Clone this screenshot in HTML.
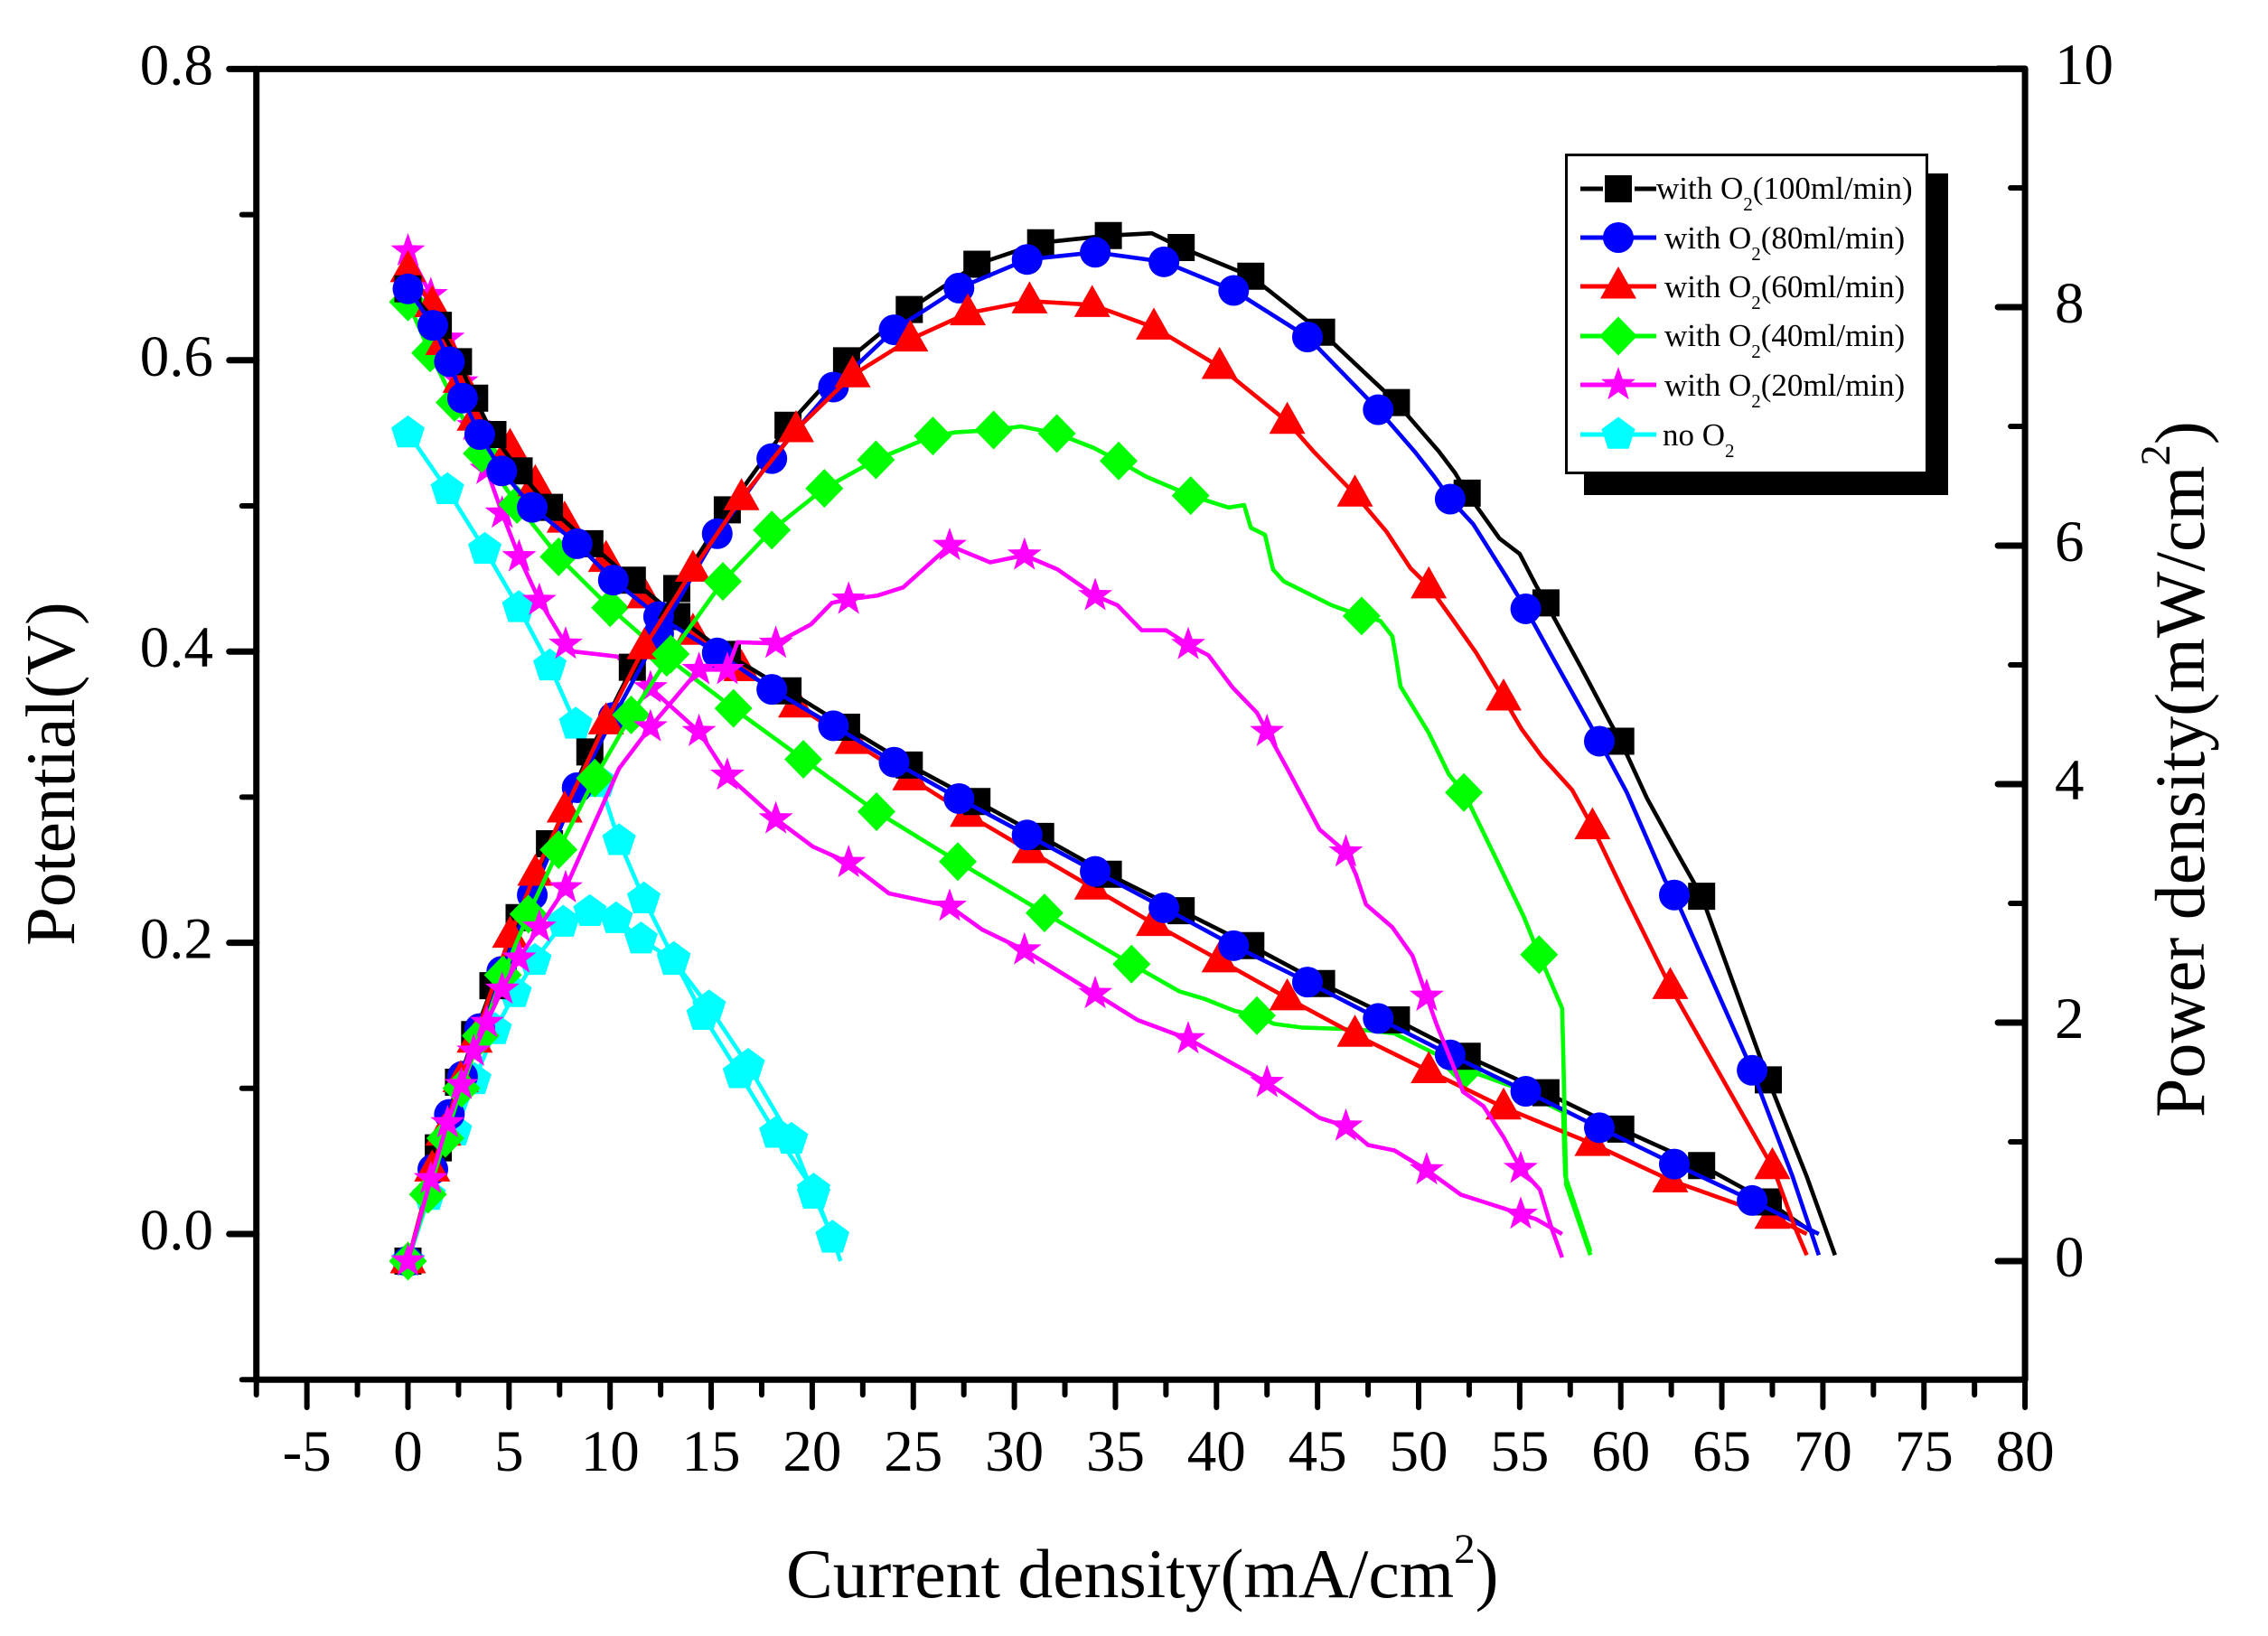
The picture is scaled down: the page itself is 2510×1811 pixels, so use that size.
<!DOCTYPE html>
<html lang="en">
<head>
<meta charset="utf-8">
<title>Potential and power density vs current density</title>
<style>
html,body{margin:0;padding:0;background:#fff;width:2510px;height:1811px;overflow:hidden}
svg{display:block}
text{font-family:"Liberation Serif",serif;fill:#000}
</style>
</head>
<body>
<svg id="chart" xmlns="http://www.w3.org/2000/svg" width="2510" height="1811" viewBox="0 0 2510 1811">
  <rect x="0" y="0" width="2510" height="1811" fill="#fff"/>
  <g id="axes"></g>
  <g id="plots"></g>
  <text x="870" y="1768" font-size="77.6">Current density(mA/cm<tspan dy="-38" font-size="47">2</tspan><tspan dy="38">)</tspan></text>
  <text transform="translate(82 1047) rotate(-90)" font-size="77">Potential(V)</text>
  <text transform="translate(2439 1237) rotate(-90)" font-size="78">Power density(mW/cm<tspan dy="-38" font-size="47">2</tspan><tspan dy="38">)</tspan></text>
  <g id="legend">
    <rect x="1753" y="192" width="403" height="356" fill="#000"/>
    <rect x="1733.5" y="171.5" width="399" height="352" fill="#fff" stroke="#000" stroke-width="3"/>
    <text x="1833" y="220" font-size="35">with O<tspan dy="13" font-size="21">2</tspan><tspan dy="-13">(100ml/min)</tspan></text>
    <text x="1842" y="275" font-size="35">with O<tspan dy="13" font-size="21">2</tspan><tspan dy="-13">(80ml/min)</tspan></text>
    <text x="1842" y="329" font-size="35">with O<tspan dy="13" font-size="21">2</tspan><tspan dy="-13">(60ml/min)</tspan></text>
    <text x="1842" y="383" font-size="35">with O<tspan dy="13" font-size="21">2</tspan><tspan dy="-13">(40ml/min)</tspan></text>
    <text x="1842" y="438" font-size="35">with O<tspan dy="13" font-size="21">2</tspan><tspan dy="-13">(20ml/min)</tspan></text>
    <text x="1840" y="493" font-size="35">no O<tspan dy="13" font-size="21">2</tspan></text>
  </g>
</svg>
<script>
// Tick labels
const xTickValues = [-5,0,5,10,15,20,25,30,35,40,45,50,55,60,65,70,75,80];
const xMinorTickValues = [-7.5,-2.5,2.5,7.5,12.5,17.5,22.5,27.5,32.5,37.5,42.5,47.5,52.5,57.5,62.5,67.5,72.5,77.5];
const leftTickValues = [0,0.2,0.4,0.6,0.8];
const leftTickLabels = ['0.0','0.2','0.4','0.6','0.8'];
const leftMinorTickValues = [-0.1,0.1,0.3,0.5,0.7];
const rightTickValues = [0,2,4,6,8,10];
const rightMinorTickValues = [1,3,5,7,9];

// 100 ml/min
const current100 = [0,1.5,2.5,3.3,4.2,5.5,7,9,11.1,13.3,15.8,18.8,21.7,24.8,28.15,31.3,34.65,38.25,41.7,45.2,48.9,52.4,56.3,60,64,67.3];
const voltage100 = [.649,.624,.599,.574,.549,.524,.499,.474,.449,.424,.398,.373,.348,.322,.297,.273,.247,.222,.198,.172,.147,.122,.097,.072,.047,.022];
const power100 = [0,.95,1.5,1.9,2.31,2.88,3.5,4.27,4.98,5.64,6.3,7.01,7.55,7.98,8.36,8.54,8.6,8.5,8.26,7.79,7.2,6.44,5.52,4.36,3.06,1.52];
const lineCurrentV100 = [69.6];
const lineVoltage100 = [0];
const lineCurrentP100 = [36.8,51,51.8,54,55,55.8,58,59.5,61.3,62.7,69.2,70.6];
const linePower100 = [8.62,6.79,6.61,6.06,5.93,5.67,4.99,4.51,3.88,3.45,.71,.05];

// 80 ml/min
const current80 = [0,1.23,2.05,2.7,3.55,4.64,6.15,8.37,10.16,12.4,15.3,18,21.05,24.05,27.26,30.63,34,37.4,40.85,44.5,48,51.56,55.3,58.94,62.65,66.5];
const voltage80 = [.649,.624,.599,.574,.549,.524,.499,.474,.449,.424,.399,.374,.349,.324,.299,.274,.249,.224,.198,.173,.148,.123,.098,.073,.048,.023];
const power80 = [0,.77,1.23,1.55,1.95,2.43,3.07,3.97,4.56,5.26,6.1,6.73,7.33,7.81,8.16,8.4,8.46,8.38,8.14,7.75,7.14,6.39,5.47,4.36,3.07,1.6];
const lineCurrentV80 = [69.8];
const lineVoltage80 = [0];
const lineCurrentP80 = [49.8,50.77,52.7,54.3,56.7,60.3,62.2,68.5,69.8];
const linePower80 = [6.79,6.58,6.18,5.75,5.04,3.93,3.19,.71,.05];

// 60 ml/min
const current60 = [0,1.2,1.75,2.6,3.3,5.05,6.3,7.75,9.8,11.7,14.1,16.5,19.2,22,24.85,27.7,30.75,33.85,36.9,40.15,43.5,46.85,50.5,54.2,58.6,62.45,67.5];
const voltage60 = [.662,.638,.612,.586,.56,.54,.515,.49,.463,.438,.413,.388,.363,.338,.313,.288,.263,.238,.213,.188,.162,.137,.112,.087,.062,.037,.012];
const power60 = [0,.77,1.07,1.52,1.85,2.73,3.25,3.78,4.52,5.15,5.8,6.4,6.97,7.43,7.73,7.95,8.05,8.02,7.83,7.5,7.04,6.43,5.66,4.72,3.64,2.3,.79];
const lineCurrentV60 = [69.2];
const lineVoltage60 = [0];
const lineCurrentP60 = [44.8,48.4,49.6,51.65,52.85,55.1,56.1,57.6,60.3,67.7,68.6,69.2];
const linePower60 = [6.79,6.12,5.81,5.39,5.1,4.46,4.23,3.95,3.04,.71,.29,.05];

// 40 ml/min
const currentV40 = [0,1.1,2.3,3.65,5.4,7.45,10,12.8,16.1,19.56,23.18,27.2,31.49,35.8,42,52.3];
const voltage40 = [.64,.605,.571,.536,.501,.465,.43,.396,.361,.326,.29,.2557,.2205,.1853,.15,.113];
const currentP40 = [0,.99,1.85,2.64,3.6,4.7,5.96,7.45,9.25,11.04,13,15.58,18,20.6,23.15,25.97,28.97,32.1,35.16,38.72,47.18,52.24,55.96];
const power40 = [0,.56,1.03,1.45,1.89,2.4,2.91,3.45,4.05,4.58,5.09,5.7,6.13,6.48,6.72,6.92,6.97,6.94,6.71,6.42,5.41,3.93,2.57];
const lineCurrentV40 = [38.15,39.4,40.9,42.85,44.2,46.3,47.5,48.8,50.6,54.6,57.15,57.25,58.5];
const lineVoltage40 = [.1667,.1615,.1532,.1443,.1418,.1408,.1398,.1377,.1253,.1015,.0838,.04,-.012];
const lineCurrentP40 = [27.08,30.33,33.93,36.5,40.6,41.37,41.7,42.4,42.8,43.33,45.7,48.1,48.7,48.9,49.1,50.5,51.5,53.7,55.2,57.1,57.15,57.3,58.5];
const linePower40 = [6.95,7,6.82,6.58,6.32,6.34,6.15,6.09,5.8,5.7,5.5,5.37,5.24,5.04,4.82,4.43,4.08,3.42,2.89,2.12,1.8,.64,.05];

// 20 ml/min
const current20 = [0,1.13,1.96,2.64,3.25,3.9,4.66,5.5,6.5,7.8,12,14.4,15.8,18.2,21.8,26.8,30.5,34,38.6,42.5,46.4,50.4,55.05];
const voltage20 = [.675,.645,.615,.585,.555,.525,.495,.465,.435,.405,.375,.345,.315,.285,.255,.225,.195,.165,.134,.104,.074,.044,.0135];
const power20 = [0,.69,1.16,1.48,1.76,2,2.28,2.54,2.8,3.13,4.48,4.96,4.96,5.18,5.55,6,5.92,5.58,5.17,4.44,3.43,2.22,.776];
const lineCurrentV20 = [8.2,10.36,20.03,23.8,28.4,36.1,45.1,47.5,48.8,52.1,54.2,55.8,57.1];
const lineVoltage20 = [.4,.3965,.266,.2339,.2091,.1469,.0797,.0611,.0574,.0269,.0176,.0103,0];
const lineCurrentP20 = [10.44,16.3,19.94,20.97,23.2,24.5,28.8,32.14,35.1,36.3,37.5,39.6,40.8,42,43.5,45.1,46.9,47.4,48.7,49.7,50.9,51.8,52.2,53.2,54.2,56,56.55,57.1];
const linePower20 = [4.13,5.19,5.34,5.52,5.58,5.65,5.86,5.8,5.5,5.29,5.29,5.08,4.81,4.6,4.13,3.62,3.24,2.99,2.8,2.56,1.98,1.6,1.42,1.3,1.04,.6,.29,.03];

// no O2
const currentV0 = [0,1.95,3.8,5.48,7.02,8.3,9.5,10.44,11.67,13.15,14.6,16.4,18.2,20.07,21];
const voltage0 = [.55,.511,.47,.43,.39,.35,.31,.27,.23,.189,.15,.11,.069,.03,-.003];
const currentP0 = [0,1.05,2.35,3.3,4.31,5.3,6.28,7.68,9,10.3,11.53,13.14,14.9,16.83,18.97,20.07,21];
const power0 = [0,.55,1.09,1.52,1.94,2.25,2.52,2.84,2.93,2.87,2.7,2.52,2.13,1.64,1.02,.56,.2];
const lineCurrentV0 = [21.3];
const lineVoltage0 = [-.012];
const lineCurrentP0 = [21.4];
const linePower0 = [0];

const NS = 'http://www.w3.org/2000/svg';
const axesG = document.getElementById('axes');
const plotsG = document.getElementById('plots');
const legendG = document.getElementById('legend');

function xScale(v){ return 451.5 + 22.37 * v; }
function yLeft(v){ return 1366 - 1612 * v; }
function yRight(v){ return 1396 - 132 * v; }

function make(tag){ return document.createElementNS(NS, tag); }

function axisLine(x1,y1,x2,y2,w){
  const el = make('line');
  el.setAttribute('x1', x1);
  el.setAttribute('y1', y1);
  el.setAttribute('x2', x2);
  el.setAttribute('y2', y2);
  el.setAttribute('stroke', '#000');
  el.setAttribute('stroke-width', w);
  el.setAttribute('stroke-linecap', 'round');
  
  
  axesG.appendChild(el);
  return el;
}

function tickLabel(x,y,str,anchor){
  const el = make('text');
  el.setAttribute('x', x);
  el.setAttribute('y', y);
  el.setAttribute('font-size', 65);
  el.setAttribute('text-anchor', anchor);
  
  
  el.textContent = str;
  axesG.appendChild(el);
}

const left = xScale(-7.5), right = xScale(80), top_ = yLeft(0.8), bottom = yLeft(-0.1);
axisLine(left, top_, right, top_, 7);
axisLine(left, bottom, right, bottom, 7);
axisLine(left, top_, left, bottom, 7);
axisLine(right, top_, right, bottom, 7);

xTickValues.forEach(function(v){
  axisLine(xScale(v), bottom, xScale(v), 1558, 6);
  tickLabel(xScale(v), 1628, String(v), 'middle');
});
xMinorTickValues.forEach(function(v){
  axisLine(xScale(v), bottom, xScale(v), 1544, 6);
});
leftTickValues.forEach(function(v,i){
  axisLine(left - 30, yLeft(v), left, yLeft(v), 7);
  tickLabel(236, yLeft(v) + 17, leftTickLabels[i], 'end');
});
leftMinorTickValues.forEach(function(v){
  axisLine(left - 16, yLeft(v), left, yLeft(v), 6);
});
rightTickValues.forEach(function(v){
  axisLine(right - 30, yRight(v), right, yRight(v), 7);
  tickLabel(2274, yRight(v) + 17, String(v), 'start');
});
rightMinorTickValues.forEach(function(v){
  axisLine(right - 16, yRight(v), right, yRight(v), 6);
});

function polyPoints(cx, cy, pts){
  return pts.map(function(p){ return (cx + p[0]).toFixed(1) + ',' + (cy + p[1]).toFixed(1); }).join(' ');
}
function regular(n, r){
  const out = [];
  for (let i = 0; i < n; i++){
    const a = -Math.PI/2 + i * 2 * Math.PI / n;
    out.push([r * Math.cos(a), r * Math.sin(a)]);
  }
  return out;
}
function starShape(R, r){
  const out = [];
  for (let i = 0; i < 10; i++){
    const a = -Math.PI/2 + i * Math.PI / 5;
    const q = i % 2 ? r : R;
    out.push([q * Math.cos(a), q * Math.sin(a)]);
  }
  return out;
}
const shapes = {
  square: [[-15,-15],[15,-15],[15,15],[-15,15]],
  triangle: [[0,-22],[20,13.5],[-20,13.5]],
  diamond: [[0,-21.5],[21,0],[0,21.5],[-21,0]],
  star: starShape(20, 8),
  pentagon: regular(5, 19.5)
};

function drawMarker(parent, kind, color, cx, cy){
  let el;
  if (kind === 'circle'){
    el = make('circle');
    el.setAttribute('cx', cx);
    el.setAttribute('cy', cy);
    el.setAttribute('r', 17);
  } else {
    el = make('polygon');
    el.setAttribute('points', polyPoints(cx, cy, shapes[kind]));
  }
  el.setAttribute('fill', color);
  
  
  parent.appendChild(el);
}

function mergeLine(xs, ys, ex, ey){
  const pts = [];
  xs.forEach(function(x,i){ pts.push([x, ys[i]]); });
  ex.forEach(function(x,i){ pts.push([x, ey[i]]); });
  pts.sort(function(a,b){ return a[0] - b[0]; });
  return pts;
}

function drawCurve(kind, color, xs, ys, ex, ey, yScale){
  const g = make('g');
  
  
  const line = make('polyline');
  line.setAttribute('points', mergeLine(xs, ys, ex, ey).map(function(p){
    return xScale(p[0]).toFixed(1) + ',' + yScale(p[1]).toFixed(1);
  }).join(' '));
  line.setAttribute('fill', 'none');
  line.setAttribute('stroke', color);
  line.setAttribute('stroke-width', 4.6);
  line.setAttribute('stroke-linejoin', 'round');
  
  
  g.appendChild(line);
  xs.forEach(function(x,i){
    drawMarker(g, kind, color, xScale(x), yScale(ys[i]));
  });
  plotsG.appendChild(g);
}

// Potential curves (drawn first, underneath)
drawCurve('pentagon', '#00ffff', currentV0, voltage0, lineCurrentV0, lineVoltage0, yLeft);
drawCurve('star', '#ff00ff', current20, voltage20, lineCurrentV20, lineVoltage20, yLeft);
drawCurve('diamond', '#00ff00', currentV40, voltage40, lineCurrentV40, lineVoltage40, yLeft);
drawCurve('triangle', '#ff0000', current60, voltage60, lineCurrentV60, lineVoltage60, yLeft);
drawCurve('square', '#000000', current100, voltage100, lineCurrentV100, lineVoltage100, yLeft);
drawCurve('circle', '#0000ff', current80, voltage80, lineCurrentV80, lineVoltage80, yLeft);
// Power curves
drawCurve('pentagon', '#00ffff', currentP0, power0, lineCurrentP0, linePower0, yRight);
drawCurve('square', '#000000', current100, power100, lineCurrentP100, linePower100, yRight);
drawCurve('circle', '#0000ff', current80, power80, lineCurrentP80, linePower80, yRight);
drawCurve('triangle', '#ff0000', current60, power60, lineCurrentP60, linePower60, yRight);
drawCurve('diamond', '#00ff00', currentP40, power40, lineCurrentP40, linePower40, yRight);
drawCurve('star', '#ff00ff', current20, power20, lineCurrentP20, linePower20, yRight);

// Legend keys
const legendKinds = ['square','circle','triangle','diamond','star','pentagon'];
const legendColors = ['#000000','#0000ff','#ff0000','#00ff00','#ff00ff','#00ffff'];
const legendRows = [209,263,317,372,426,481];
legendKinds.forEach(function(kind,i){
  const y = legendRows[i];
  if (kind === 'square'){
    const a = make('line');
    a.setAttribute('x1', 1749);
    a.setAttribute('y1', y);
    a.setAttribute('x2', 1774);
    a.setAttribute('y2', y);
    a.setAttribute('stroke', '#000');
    a.setAttribute('stroke-width', 5);
    
    
    legendG.appendChild(a);
    const b = make('line');
    b.setAttribute('x1', 1809);
    b.setAttribute('y1', y);
    b.setAttribute('x2', 1833);
    b.setAttribute('y2', y);
    b.setAttribute('stroke', '#000');
    b.setAttribute('stroke-width', 5);
    
    
    legendG.appendChild(b);
  } else {
    const l = make('line');
    l.setAttribute('x1', 1749);
    l.setAttribute('y1', y);
    l.setAttribute('x2', 1833);
    l.setAttribute('y2', y);
    l.setAttribute('stroke', legendColors[i]);
    l.setAttribute('stroke-width', 5);
    
    
    legendG.appendChild(l);
  }
  drawMarker(legendG, kind, legendColors[i], 1791, y);
});
</script>
</body>
</html>
